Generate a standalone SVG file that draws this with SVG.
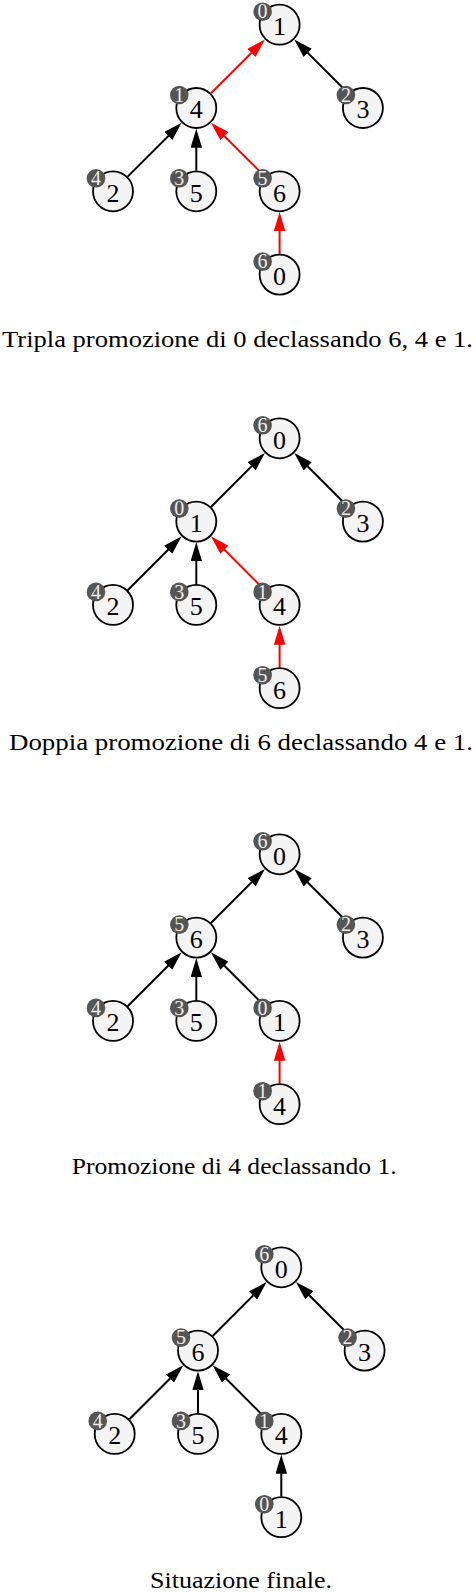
<svg xmlns="http://www.w3.org/2000/svg" width="476" height="1592" viewBox="0 0 476 1592">
<style>
.node{fill:#f4f4f4;stroke:#000;stroke-width:1.8}
.badge{fill:#555555;stroke:none}
.lbl{font-family:"Liberation Serif",serif;font-size:26px;text-anchor:middle;fill:#000}
.btx{font-family:"Liberation Serif",serif;font-size:20px;text-anchor:middle;fill:#eeeeee}
.cap{font-family:"Liberation Serif",serif;font-size:23px;text-anchor:middle;fill:#000}
.eb{stroke:#000;stroke-width:2;fill:none;marker-end:url(#arrB)}
.er{stroke:#ff0000;stroke-width:2;fill:none;marker-end:url(#arrR)}
</style>
<defs>
<marker id="arrB" markerUnits="userSpaceOnUse" viewBox="0 0 19 11.5" markerWidth="19" markerHeight="11.5" refX="13" refY="5.75" orient="auto"><path d="M0,0 L19,5.75 L0,11.5 Z" fill="#000"/></marker>
<marker id="arrR" markerUnits="userSpaceOnUse" viewBox="0 0 19 11.5" markerWidth="19" markerHeight="11.5" refX="13" refY="5.75" orient="auto"><path d="M0,0 L19,5.75 L0,11.5 Z" fill="#ff0000"/></marker>
</defs>

<g id="tree1">
<g id="t1-edges">
<line class="er" x1="210.97" y1="93.33" x2="260.68" y2="43.62"/>
<line class="eb" x1="348.23" y1="93.33" x2="298.52" y2="43.62"/>
<line class="eb" x1="127.67" y1="176.63" x2="177.38" y2="126.92"/>
<line class="eb" x1="196.3" y1="170.55" x2="196.3" y2="134.75"/>
<line class="er" x1="264.93" y1="176.63" x2="215.22" y2="126.92"/>
<line class="er" x1="279.6" y1="253.85" x2="279.6" y2="218.05"/>
</g>
<g id="t1-n1" transform="translate(279.6,24.7)"><circle class="node" r="20"/><circle class="badge" cx="-17" cy="-13" r="9.3"/><text class="lbl" y="10.3">1</text><text class="btx" x="-17" y="-6.3">0</text></g>
<g id="t1-n4" transform="translate(196.3,108)"><circle class="node" r="20"/><circle class="badge" cx="-17" cy="-13" r="9.3"/><text class="lbl" y="10.3">4</text><text class="btx" x="-17" y="-6.3">1</text></g>
<g id="t1-n3" transform="translate(362.9,108)"><circle class="node" r="20"/><circle class="badge" cx="-17" cy="-13" r="9.3"/><text class="lbl" y="10.3">3</text><text class="btx" x="-17" y="-6.3">2</text></g>
<g id="t1-n2" transform="translate(113,191.3)"><circle class="node" r="20"/><circle class="badge" cx="-17" cy="-13" r="9.3"/><text class="lbl" y="10.3">2</text><text class="btx" x="-17" y="-6.3">4</text></g>
<g id="t1-n5" transform="translate(196.3,191.3)"><circle class="node" r="20"/><circle class="badge" cx="-17" cy="-13" r="9.3"/><text class="lbl" y="10.3">5</text><text class="btx" x="-17" y="-6.3">3</text></g>
<g id="t1-n6" transform="translate(279.6,191.3)"><circle class="node" r="20"/><circle class="badge" cx="-17" cy="-13" r="9.3"/><text class="lbl" y="10.3">6</text><text class="btx" x="-17" y="-6.3">5</text></g>
<g id="t1-n0" transform="translate(279.6,274.6)"><circle class="node" r="20"/><circle class="badge" cx="-17" cy="-13" r="9.3"/><text class="lbl" y="10.3">0</text><text class="btx" x="-17" y="-6.3">6</text></g>
</g>
<text id="cap1" class="cap" x="237.5" y="346.5" textLength="471" lengthAdjust="spacingAndGlyphs">Tripla promozione di 0 declassando 6, 4 e 1.</text>

<g id="tree2" transform="translate(0,413.6)">
<g id="t2-edges">
<line class="eb" x1="210.97" y1="93.33" x2="260.68" y2="43.62"/>
<line class="eb" x1="348.23" y1="93.33" x2="298.52" y2="43.62"/>
<line class="eb" x1="127.67" y1="176.63" x2="177.38" y2="126.92"/>
<line class="eb" x1="196.3" y1="170.55" x2="196.3" y2="134.75"/>
<line class="er" x1="264.93" y1="176.63" x2="215.22" y2="126.92"/>
<line class="er" x1="279.6" y1="253.85" x2="279.6" y2="218.05"/>
</g>
<g id="t2-n0" transform="translate(279.6,24.7)"><circle class="node" r="20"/><circle class="badge" cx="-17" cy="-13" r="9.3"/><text class="lbl" y="10.3">0</text><text class="btx" x="-17" y="-6.3">6</text></g>
<g id="t2-n1" transform="translate(196.3,108)"><circle class="node" r="20"/><circle class="badge" cx="-17" cy="-13" r="9.3"/><text class="lbl" y="10.3">1</text><text class="btx" x="-17" y="-6.3">0</text></g>
<g id="t2-n3" transform="translate(362.9,108)"><circle class="node" r="20"/><circle class="badge" cx="-17" cy="-13" r="9.3"/><text class="lbl" y="10.3">3</text><text class="btx" x="-17" y="-6.3">2</text></g>
<g id="t2-n2" transform="translate(113,191.3)"><circle class="node" r="20"/><circle class="badge" cx="-17" cy="-13" r="9.3"/><text class="lbl" y="10.3">2</text><text class="btx" x="-17" y="-6.3">4</text></g>
<g id="t2-n5" transform="translate(196.3,191.3)"><circle class="node" r="20"/><circle class="badge" cx="-17" cy="-13" r="9.3"/><text class="lbl" y="10.3">5</text><text class="btx" x="-17" y="-6.3">3</text></g>
<g id="t2-n4" transform="translate(279.6,191.3)"><circle class="node" r="20"/><circle class="badge" cx="-17" cy="-13" r="9.3"/><text class="lbl" y="10.3">4</text><text class="btx" x="-17" y="-6.3">1</text></g>
<g id="t2-n6" transform="translate(279.6,274.6)"><circle class="node" r="20"/><circle class="badge" cx="-17" cy="-13" r="9.3"/><text class="lbl" y="10.3">6</text><text class="btx" x="-17" y="-6.3">5</text></g>
</g>
<text id="cap2" class="cap" x="241" y="749.5" textLength="464" lengthAdjust="spacingAndGlyphs">Doppia promozione di 6 declassando 4 e 1.</text>

<g id="tree3" transform="translate(0,829.6)">
<g id="t3-edges">
<line class="eb" x1="210.97" y1="93.33" x2="260.68" y2="43.62"/>
<line class="eb" x1="348.23" y1="93.33" x2="298.52" y2="43.62"/>
<line class="eb" x1="127.67" y1="176.63" x2="177.38" y2="126.92"/>
<line class="eb" x1="196.3" y1="170.55" x2="196.3" y2="134.75"/>
<line class="eb" x1="264.93" y1="176.63" x2="215.22" y2="126.92"/>
<line class="er" x1="279.6" y1="253.85" x2="279.6" y2="218.05"/>
</g>
<g id="t3-n0" transform="translate(279.6,24.7)"><circle class="node" r="20"/><circle class="badge" cx="-17" cy="-13" r="9.3"/><text class="lbl" y="10.3">0</text><text class="btx" x="-17" y="-6.3">6</text></g>
<g id="t3-n6" transform="translate(196.3,108)"><circle class="node" r="20"/><circle class="badge" cx="-17" cy="-13" r="9.3"/><text class="lbl" y="10.3">6</text><text class="btx" x="-17" y="-6.3">5</text></g>
<g id="t3-n3" transform="translate(362.9,108)"><circle class="node" r="20"/><circle class="badge" cx="-17" cy="-13" r="9.3"/><text class="lbl" y="10.3">3</text><text class="btx" x="-17" y="-6.3">2</text></g>
<g id="t3-n2" transform="translate(113,191.3)"><circle class="node" r="20"/><circle class="badge" cx="-17" cy="-13" r="9.3"/><text class="lbl" y="10.3">2</text><text class="btx" x="-17" y="-6.3">4</text></g>
<g id="t3-n5" transform="translate(196.3,191.3)"><circle class="node" r="20"/><circle class="badge" cx="-17" cy="-13" r="9.3"/><text class="lbl" y="10.3">5</text><text class="btx" x="-17" y="-6.3">3</text></g>
<g id="t3-n1" transform="translate(279.6,191.3)"><circle class="node" r="20"/><circle class="badge" cx="-17" cy="-13" r="9.3"/><text class="lbl" y="10.3">1</text><text class="btx" x="-17" y="-6.3">0</text></g>
<g id="t3-n4" transform="translate(279.6,274.6)"><circle class="node" r="20"/><circle class="badge" cx="-17" cy="-13" r="9.3"/><text class="lbl" y="10.3">4</text><text class="btx" x="-17" y="-6.3">1</text></g>
</g>
<text id="cap3" class="cap" x="234.2" y="1173.5" textLength="325" lengthAdjust="spacingAndGlyphs">Promozione di 4 declassando 1.</text>

<g id="tree4" transform="translate(1.7,1242.6)">
<g id="t4-edges">
<line class="eb" x1="210.97" y1="93.33" x2="260.68" y2="43.62"/>
<line class="eb" x1="348.23" y1="93.33" x2="298.52" y2="43.62"/>
<line class="eb" x1="127.67" y1="176.63" x2="177.38" y2="126.92"/>
<line class="eb" x1="196.3" y1="170.55" x2="196.3" y2="134.75"/>
<line class="eb" x1="264.93" y1="176.63" x2="215.22" y2="126.92"/>
<line class="eb" x1="279.6" y1="253.85" x2="279.6" y2="218.05"/>
</g>
<g id="t4-n0" transform="translate(279.6,24.7)"><circle class="node" r="20"/><circle class="badge" cx="-17" cy="-13" r="9.3"/><text class="lbl" y="10.3">0</text><text class="btx" x="-17" y="-6.3">6</text></g>
<g id="t4-n6" transform="translate(196.3,108)"><circle class="node" r="20"/><circle class="badge" cx="-17" cy="-13" r="9.3"/><text class="lbl" y="10.3">6</text><text class="btx" x="-17" y="-6.3">5</text></g>
<g id="t4-n3" transform="translate(362.9,108)"><circle class="node" r="20"/><circle class="badge" cx="-17" cy="-13" r="9.3"/><text class="lbl" y="10.3">3</text><text class="btx" x="-17" y="-6.3">2</text></g>
<g id="t4-n2" transform="translate(113,191.3)"><circle class="node" r="20"/><circle class="badge" cx="-17" cy="-13" r="9.3"/><text class="lbl" y="10.3">2</text><text class="btx" x="-17" y="-6.3">4</text></g>
<g id="t4-n5" transform="translate(196.3,191.3)"><circle class="node" r="20"/><circle class="badge" cx="-17" cy="-13" r="9.3"/><text class="lbl" y="10.3">5</text><text class="btx" x="-17" y="-6.3">3</text></g>
<g id="t4-n4" transform="translate(279.6,191.3)"><circle class="node" r="20"/><circle class="badge" cx="-17" cy="-13" r="9.3"/><text class="lbl" y="10.3">4</text><text class="btx" x="-17" y="-6.3">1</text></g>
<g id="t4-n1" transform="translate(279.6,274.6)"><circle class="node" r="20"/><circle class="badge" cx="-17" cy="-13" r="9.3"/><text class="lbl" y="10.3">1</text><text class="btx" x="-17" y="-6.3">0</text></g>
</g>
<text id="cap4" class="cap" x="241" y="1588" textLength="182" lengthAdjust="spacingAndGlyphs">Situazione finale.</text>
</svg>
